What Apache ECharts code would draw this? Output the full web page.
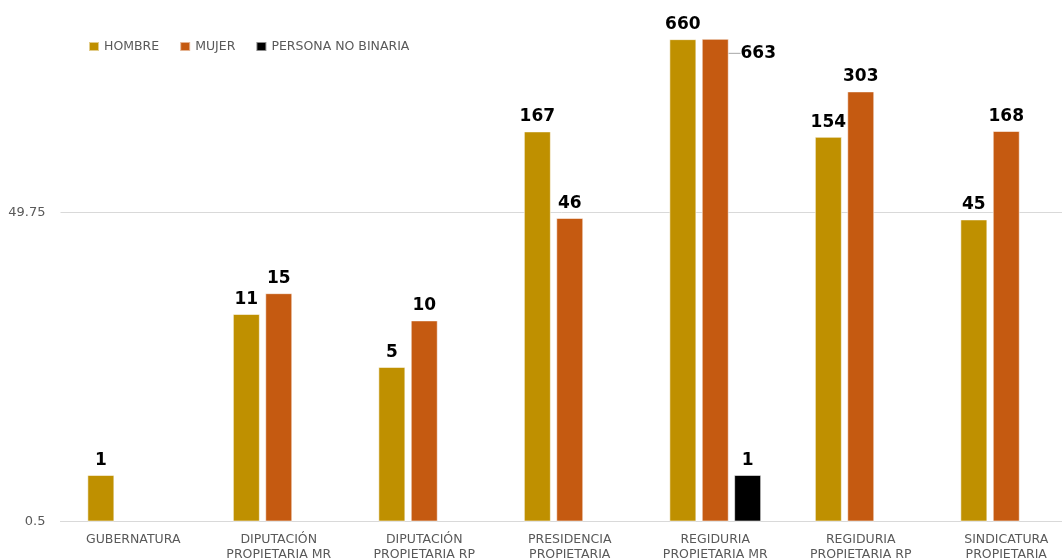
<!DOCTYPE html>
<html>
<head>
<meta charset="utf-8">
<script src="https://cdn.jsdelivr.net/npm/echarts@6/dist/echarts.min.js"></script>
<style>
html,body{margin:0;padding:0;background:#fff;}
#chart{width:1062px;height:559px;}
</style>
</head>
<body>
<div id="chart"></div>
<script>
const categories = ['GUBERNATURA', 'DIPUTACIÓN PROPIETARIA MR', 'DIPUTACIÓN PROPIETARIA RP', 'PRESIDENCIA PROPIETARIA', 'REGIDURIA PROPIETARIA MR', 'REGIDURIA PROPIETARIA RP', 'SINDICATURA PROPIETARIA'];
const seriesNames = ['HOMBRE', 'MUJER', 'PERSONA NO BINARIA'];
const hombre = [1, 11, 5, 167, 660, 154, 45];
const mujer = [null, 15, 10, 46, 663, 303, 168];
const noBinaria = [null, null, null, null, 1, null, null];
const yTickLabels = [0.5, 49.75];
const colors = ['#BF9000', '#C55A11', '#000000'];

const FONT = 'DejaVu Sans';
const chart = echarts.init(document.getElementById('chart'), null, {renderer: 'canvas'});

function barSeries(name, values, color, idx) {
  const s = {
    name: name,
    type: 'bar',
    barWidth: 27,
    barGap: '20%',
    itemStyle: {color: color, borderColor: 'rgba(255,255,255,0.55)', borderWidth: 1},
    label: {
      show: true, position: 'top', distance: 6,
      fontFamily: FONT, fontWeight: 'bold', fontSize: 17, color: '#000'
    },
    data: values.map(function (v, i) {
      if (idx === 1 && i === 4) {
        return {value: v, labelLine: {show: true, lineStyle: {color: '#a6a6a6', width: 1}}};
      }
      return v;
    })
  };
  if (idx === 1) {
    s.labelLayout = function (p) {
      if (p.dataIndex === 4) return {dx: 43, dy: 29};
    };
  }
  return s;
}

chart.setOption({
  animation: false,
  color: colors,
  legend: {
    left: 83, top: 35,
    itemWidth: 10, itemHeight: 9, itemGap: 20,
    icon: 'rect',
    textStyle: {color: '#595959', fontSize: 12.5, fontFamily: FONT},
    data: seriesNames
  },
  grid: {left: 60.5, width: 1018.5, top: 30, bottom: 37.5, containLabel: false, outerBoundsMode: 'none'},
  xAxis: {
    type: 'category',
    data: categories,
    axisLine: {lineStyle: {color: '#d9d9d9', width: 1}},
    axisTick: {show: false},
    axisLabel: {
      interval: 0, color: '#595959', fontSize: 12.5, fontFamily: FONT, lineHeight: 15, margin: 11,
      formatter: function (v) { return v.replace(' ', '\n'); }
    }
  },
  yAxis: {
    type: 'log',
    logBase: 10,
    min: 0.5,
    max: 756.3,
    startValue: 0.5,
    axisLine: {show: false},
    axisTick: {show: false, customValues: yTickLabels},
    axisLabel: {customValues: yTickLabels, color: '#595959', fontSize: 13, fontFamily: FONT, margin: 15,
      formatter: function (v) { return String(v); }},
    splitLine: {show: true, lineStyle: {color: '#d9d9d9', width: 1}}
  },
  series: [
    barSeries(seriesNames[0], hombre, colors[0], 0),
    barSeries(seriesNames[1], mujer, colors[1], 1),
    barSeries(seriesNames[2], noBinaria, colors[2], 2)
  ]
});
</script>
</body>
</html>
